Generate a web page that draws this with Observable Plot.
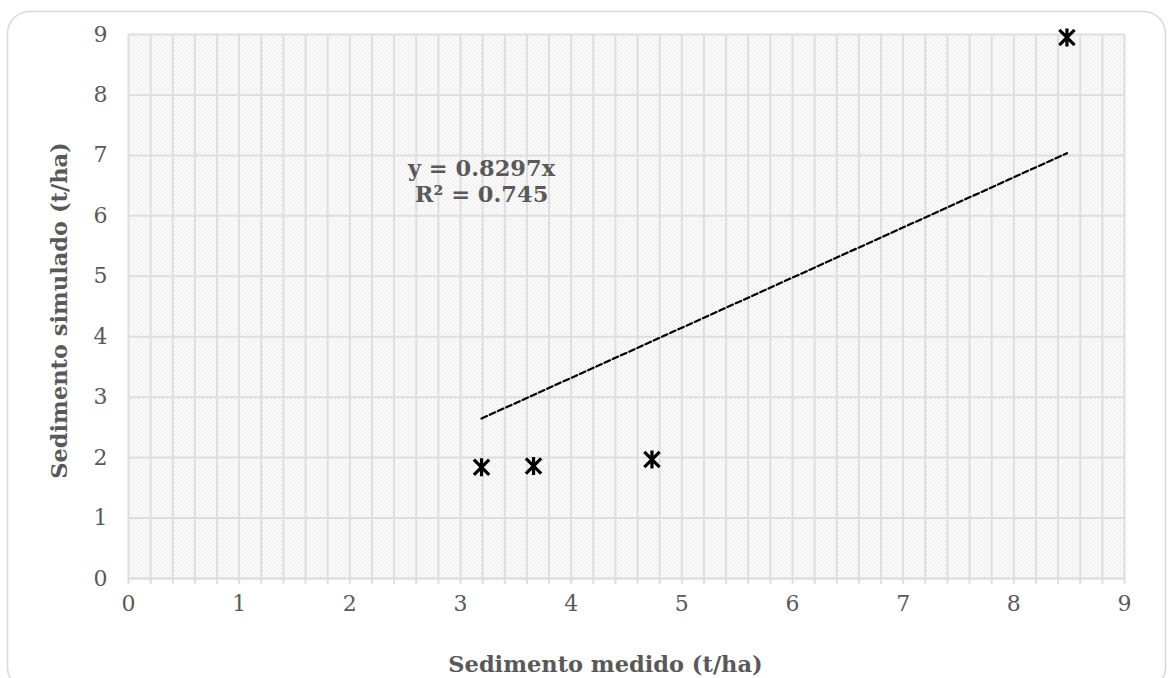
<!DOCTYPE html>
<html>
<head>
<meta charset="utf-8">
<script src="https://cdn.jsdelivr.net/npm/d3@7"></script>
<script src="https://cdn.jsdelivr.net/npm/@observablehq/plot@0.6"></script>
<style>
  html, body { margin: 0; padding: 0; background: #fff; }
  #chart svg { display: block; }
</style>
</head>
<body>
<div id="chart"></div>
<script>
// Data
const medido = [3.19, 3.66, 4.73, 8.48];
const simulado = [1.84, 1.86, 1.97, 8.95];
const slope = 0.8297;
const trendRange = [3.19, 8.48];
const eqLines = ["y = 0.8297x", "R² = 0.745"];
const majorTicks = [0, 1, 2, 3, 4, 5, 6, 7, 8, 9];
const minorTicks = d3.range(0, 46).map(i => i / 5);
const xLabel = "Sedimento medido (t/ha)";
const yLabel = "Sedimento simulado (t/ha)";

const points = medido.map((x, i) => ({x, y: simulado[i]}));
const trend = trendRange.map(x => ({x, y: slope * x}));

const star = {
  draw(context, size) {
    const r = Math.sqrt(size / Math.PI);
    const a = r * 0.85;
    context.moveTo(0, -r); context.lineTo(0, r);
    context.moveTo(-a, -a); context.lineTo(a, a);
    context.moveTo(-a, a); context.lineTo(a, -a);
  }
};

const font = "DejaVu Serif";
const grey = "#595959";
const gridC = "#dedede";

const chart = Plot.plot({
  width: 1169,
  height: 678,
  marginLeft: 128,
  marginRight: 45,
  marginTop: 34,
  marginBottom: 100,
  style: {fontFamily: font, background: "white", overflow: "visible"},
  x: {domain: [0, 9]},
  y: {domain: [0, 9]},
  marks: [
    Plot.frame({fill: "url(#hatch)", stroke: null}),
    Plot.gridX(minorTicks, {stroke: gridC, strokeOpacity: 1, strokeWidth: 2}),
    Plot.gridY(majorTicks, {stroke: gridC, strokeOpacity: 1, strokeWidth: 2}),
    Plot.axisX(minorTicks, {tickSize: 6, tickFormat: () => "", stroke: gridC, strokeWidth: 2, label: null}),
    Plot.ruleY([0], {stroke: gridC, strokeWidth: 2}),
    Plot.axisX(majorTicks, {tickSize: 0, tickPadding: 17, fontSize: 22, fill: grey, label: null, tickFormat: d => d}),
    Plot.axisY(majorTicks, {tickSize: 0, tickPadding: 21, fontSize: 22, fill: grey, label: null, tickFormat: d => d}),
    Plot.line(trend, {x: "x", y: "y", stroke: "black", strokeWidth: 2.2, strokeDasharray: "6,3"}),
    Plot.dot(points, {x: "x", y: "y", symbol: star, r: 9, stroke: "black", strokeWidth: 3.2, fill: "none"}),
    Plot.text([eqLines.join("\n")], {x: 3.19, y: 6.58, fontSize: 22.5, fontWeight: "bold", fill: grey, lineHeight: 1.17, textAnchor: "middle"}),
    Plot.text([xLabel], {frameAnchor: "bottom", dy: 93, dx: -21, fontSize: 22.5, fontWeight: "bold", fill: grey}),
    Plot.text([yLabel], {frameAnchor: "left", rotate: -90, textAnchor: "middle", dx: -69, dy: 4, fontSize: 22.5, fontWeight: "bold", fill: grey})
  ]
});

// Hatch pattern & rounded border decoration
const svg = d3.select(chart);
const defs = svg.insert("defs", ":first-child");
const pat = defs.append("pattern")
  .attr("id", "hatch")
  .attr("patternUnits", "userSpaceOnUse")
  .attr("width", 4).attr("height", 4);
pat.append("path")
  .attr("d", "M-1,-1 L5,5 M-1,3 L1,5 M3,-1 L5,1")
  .attr("stroke", "#d6d6d6")
  .attr("stroke-width", 0.85);
svg.insert("rect", "defs + *")
  .attr("x", 7.5).attr("y", 11.5)
  .attr("width", 1158).attr("height", 678)
  .attr("rx", 22).attr("ry", 22)
  .attr("fill", "none")
  .attr("stroke", "#d9d9d9")
  .attr("stroke-width", 1.5);

document.getElementById("chart").appendChild(chart);
</script>
</body>
</html>
